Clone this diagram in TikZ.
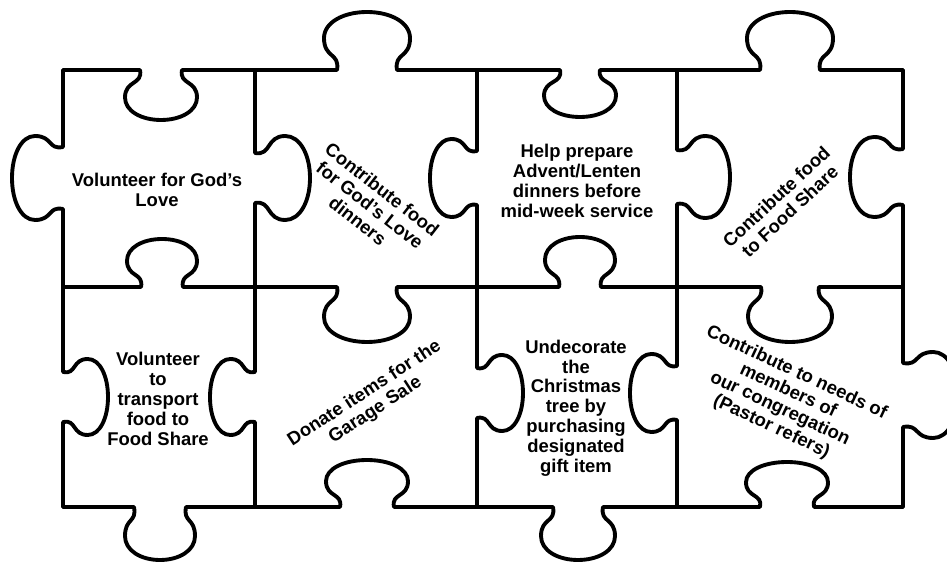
\documentclass[tikz,border=0pt]{standalone}
\usepackage{fontspec}
\setmainfont{Liberation Sans}
% horizontal edge with knob: x1, x2, y, centre, depth(+down), head half width, neck half width
\newcommand\hk[7]{%
 \draw[edge] (#1,#3) -- ({#4-#7},#3)
  .. controls ({#4-#7+3},{#3+0.3*(#5)}) and ({#4-#6},{#3+0.2*(#5)}) .. ({#4-#6},{#3+0.55*(#5)})
  .. controls ({#4-#6},{#3+0.82*(#5)}) and ({#4-0.55*#6},{#3+(#5)}) .. (#4,{#3+(#5)})
  .. controls ({#4+0.55*#6},{#3+(#5)}) and ({#4+#6},{#3+0.82*(#5)}) .. ({#4+#6},{#3+0.55*(#5)})
  .. controls ({#4+#6},{#3+0.2*(#5)}) and ({#4+#7-3},{#3+0.3*(#5)}) .. ({#4+#7},#3)
  -- (#2,#3);}
% vertical edge with knob: y1, y2, x, centre, depth(+right), head half width, neck half width
\newcommand\vk[7]{%
 \draw[edge] (#3,#1) -- (#3,{#4-#7})
  .. controls ({#3+0.3*(#5)},{#4-#7+3}) and ({#3+0.2*(#5)},{#4-#6}) .. ({#3+0.55*(#5)},{#4-#6})
  .. controls ({#3+0.82*(#5)},{#4-#6}) and ({#3+(#5)},{#4-0.55*#6}) .. ({#3+(#5)},#4)
  .. controls ({#3+(#5)},{#4+0.55*#6}) and ({#3+0.82*(#5)},{#4+#6}) .. ({#3+0.55*(#5)},{#4+#6})
  .. controls ({#3+0.2*(#5)},{#4+#6}) and ({#3+0.3*(#5)},{#4+#7-3}) .. (#3,{#4+#7})
  -- (#3,#2);}
\begin{document}
\begin{tikzpicture}[x=0.02cm,y=-0.02cm,
  edge/.style={line width=2.2pt,line join=round,line cap=round},
  txt/.style={font=\bfseries\fontsize{10.5}{11.3}\selectfont,align=center,inner sep=0pt}]
\clip (0,0) rectangle (947,563);
\fill[white] (0,0) rectangle (947,563);
% horizontal edges
\hk{63}{255}{70}{161}{50}{36}{21}
\hk{255}{477}{70}{367}{-58}{43}{30}
\hk{477}{677}{70}{580}{47}{36}{20}
\hk{677}{903}{70}{790}{-58}{43}{30}
\hk{63}{255}{287}{162}{-48}{35}{21}
\hk{255}{477}{287}{367}{55}{43}{30}
\hk{477}{677}{287}{580}{-50}{35}{21}
\hk{677}{903}{287}{790}{55}{42}{29}
\hk{63}{255}{507}{160}{53}{35}{26}
\hk{255}{477}{507}{367}{-47}{41}{27}
\hk{477}{677}{507}{578}{53}{37}{25}
\hk{677}{903}{507}{787}{-45}{41}{27}
% vertical edges
\vk{70}{287}{63}{178}{-51}{42}{31}
\vk{287}{507}{63}{397}{45}{38}{25}
\vk{70}{287}{255}{178}{55}{42}{25}
\vk{287}{507}{255}{397}{-45}{38}{25}
\vk{70}{287}{477}{178}{-47}{39}{27}
\vk{287}{507}{477}{393}{46}{38}{25}
\vk{70}{287}{677}{177}{53}{41}{27}
\vk{287}{507}{677}{393}{-47}{39}{27}
\vk{70}{287}{903}{177}{-53}{40}{28}
\vk{287}{507}{903}{395}{55}{43}{32}
% texts
\node[txt] (t1) at (157,190) {Volunteer for God’s\\Love};
\node[txt,rotate=-38] (t2) at (370,205) {Contribute food\\for God’s Love\\dinners};
\node[txt] (t3) at (577,181) {Help prepare\\Advent/Lenten\\dinners before\\mid-week service};
\node[txt,rotate=43] (t4) at (783,204) {Contribute food\\to Food Share};
\node[txt] (t5) at (158,399) {Volunteer\\to\\transport\\food to\\Food Share};
\node[txt,rotate=33] (t6) at (370,402) {Donate items for the\\Garage Sale};
\node[txt] (t7) at (576,408) {Undecorate\\the\\Christmas\\tree by\\purchasing\\designated\\gift item};
\node[txt,rotate=-25] (t8) at (784,400) {Contribute to needs of\\members of\\our congregation\\(Pastor refers)};
\end{tikzpicture}
\end{document}
